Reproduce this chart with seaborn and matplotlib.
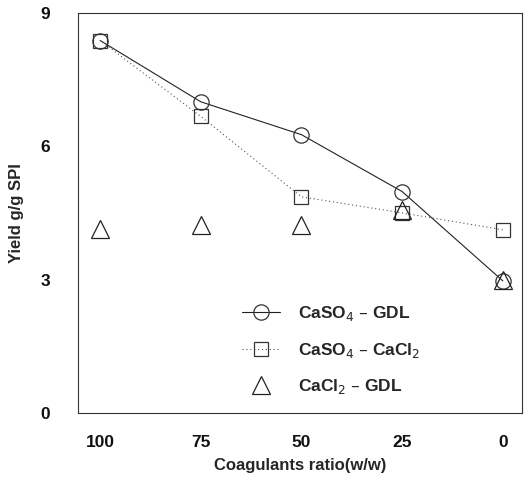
import matplotlib
matplotlib.use('Agg')
import numpy as np
import pandas as pd
import matplotlib.pyplot as plt
import seaborn as sns

sns.set_style('white')
plt.rcParams['font.family'] = ['Liberation Sans', 'DejaVu Sans']

# data
ratio = [100, 75, 50, 25, 0]
caso4_gdl = [8.38, 7.0, 6.26, 4.98, 2.97]
caso4_cacl2 = [8.38, 6.67, 4.86, 4.5, 4.12]
cacl2_gdl = [4.14, 4.23, 4.23, 4.57, 3.0]
labels = ['CaSO$_4$ – GDL', 'CaSO$_4$ – CaCl$_2$', 'CaCl$_2$ – GDL']

fig = plt.figure(figsize=(5.27, 4.8), dpi=100)
ax = fig.add_axes([0.148, 0.14, 0.842, 0.833])

sns.lineplot(x=ratio, y=caso4_gdl, ax=ax, color='#222222', lw=0.8,
             marker='o', markersize=11, markerfacecolor='none',
             markeredgecolor='#333333', markeredgewidth=0.9, label=labels[0])
sns.lineplot(x=ratio, y=caso4_cacl2, ax=ax, color='#555555', lw=0.8,
             linestyle=(0, (1, 2.5)), marker='s', markersize=10,
             markerfacecolor='none', markeredgecolor='#333333',
             markeredgewidth=0.9, label=labels[1])
sns.lineplot(x=ratio, y=cacl2_gdl, ax=ax, color='#222222', linestyle='none',
             marker='^', markersize=13, markerfacecolor='none',
             markeredgecolor='#222222', markeredgewidth=0.9, label=labels[2])

ax.set_xlim(105.5, -4.7)
ax.set_ylim(0, 9)
ax.set_xticks(ratio)
ax.set_yticks(np.arange(0, 9.1, 1.5))
ax.set_yticklabels(['0', '', '3', '', '6', '', '9'])
ax.tick_params(direction='in', length=4, width=0.8, labelsize=12.5,
               colors='#111111')
for lab in ax.get_xticklabels() + ax.get_yticklabels():
    lab.set_fontweight('bold')
ax.tick_params(axis='x', pad=16)
ax.tick_params(axis='y', pad=20)

for s in ax.spines.values():
    s.set_color('#333333')
    s.set_linewidth(0.8)

ax.set_xlabel('Coagulants ratio(w/w)', fontsize=12, fontweight='bold',
              labelpad=6)
ax.set_ylabel('Yield g/g SPI', fontsize=12, fontweight='bold', labelpad=12)

leg = ax.legend(loc='upper left', bbox_to_anchor=(0.335, 0.31), frameon=False,
                fontsize=12.5, labelspacing=1.0, handlelength=2.2,
                handletextpad=1.0)
for t in leg.get_texts():
    t.set_fontweight('bold')

fig.savefig('out.png', dpi=100)
